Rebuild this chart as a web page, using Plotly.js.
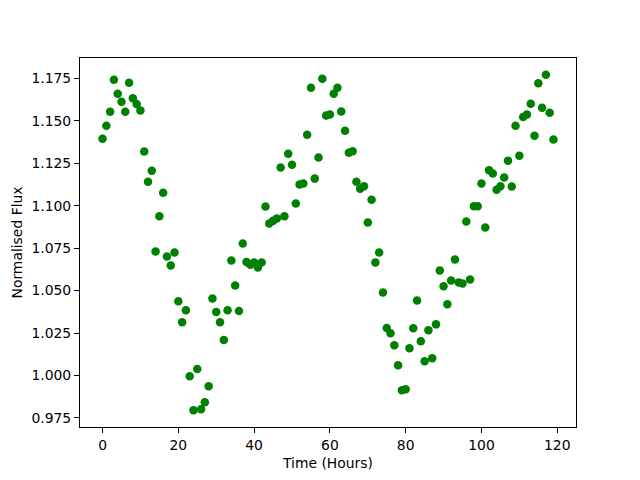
<!DOCTYPE html>
<html>
<head>
<meta charset="utf-8">
<script src="https://cdn.plot.ly/plotly-3.0.1.min.js"></script>
<style>html,body{margin:0;padding:0;background:#fff;}#chart{width:640px;height:480px;}</style>
</head>
<body>
<div id="chart"></div>
<script>
const timeHours = [0,1,2,3,4,5,6,7,8,9,10,11,12,13,14,15,16,17,18,19,20,21,22,23,24,25,26,27,28,29,30,31,32,33,34,35,36,37,38,39,40,41,42,43,44,45,46,47,48,49,50,51,52,53,54,55,56,57,58,59,60,61,62,63,64,65,66,67,68,69,70,71,72,73,74,75,76,77,78,79,80,81,82,83,84,85,86,87,88,89,90,91,92,93,94,95,96,97,98,99,100,101,102,103,104,105,106,107,108,109,110,111,112,113,114,115,116,117,118,119];
const normalisedFlux = [
  1.1395,1.1472,1.1554,1.1742,1.1660,1.1613,1.1554,1.1725,1.1634,1.1600,
  1.1562,1.1320,1.1142,1.1207,1.0731,1.0938,1.1077,1.0701,1.0648,1.0725,
  1.0437,1.0313,1.0384,0.9995,0.9795,1.0038,0.9801,0.9842,0.9936,1.0454,
  1.0374,1.0313,1.0209,1.0384,1.0678,1.0530,1.0380,1.0778,1.0668,1.0652,
  1.0666,1.0636,1.0666,1.0995,1.0895,1.0911,1.0925,1.1225,1.0938,1.1307,
  1.1242,1.1013,1.1125,1.1131,1.1419,1.1695,1.1160,1.1284,1.1748,1.1532,
  1.1538,1.1660,1.1695,1.1556,1.1442,1.1313,1.1321,1.1142,1.1101,1.1115,
  1.0901,1.1036,1.0666,1.0725,1.0489,1.0279,1.0248,1.0178,1.0060,0.9913,
  0.9919,1.0160,1.0278,1.0442,1.0201,1.0083,1.0266,1.0101,1.0301,1.0619,
  1.0525,1.0419,1.0560,1.0684,1.0548,1.0542,1.0907,1.0566,1.0997,1.0997,
  1.1131,1.0872,1.1209,1.1190,1.1095,1.1115,1.1166,1.1266,1.1113,1.1472,
  1.1295,1.1523,1.1538,1.1601,1.1413,1.1722,1.1577,1.1772,1.1548,1.1390
];
const xTickVals = [0,20,40,60,80,100,120];
const yTickVals = [0.975,1.000,1.025,1.050,1.075,1.100,1.125,1.150,1.175];
const xLabel = 'Time (Hours)';
const yLabel = 'Normalised Flux';

function padRange(arr){
  const lo = Math.min(...arr), hi = Math.max(...arr), m = (hi-lo)*0.05;
  return [lo-m, hi+m];
}

const font = {family:'DejaVu Sans, sans-serif', size:13.9, color:'#000'};
const axisCommon = {
  showgrid:false, zeroline:false, showline:true, mirror:true,
  linecolor:'#000', linewidth:1, ticks:'outside', ticklen:5, tickwidth:1,
  tickcolor:'#000', tickfont:font
};

Plotly.newPlot('chart', [{
  x: timeHours, y: normalisedFlux, type:'scatter', mode:'markers',
  marker:{color:'#008000', size:8.5}
}], {
  width:640, height:480,
  margin:{l:80, r:64, t:58, b:53, pad:0},
  paper_bgcolor:'#fff', plot_bgcolor:'#fff',
  showlegend:false,
  font: font,
  xaxis: Object.assign({}, axisCommon, {
    range: padRange(timeHours), tickvals: xTickVals,
    ticktext: xTickVals.map(String),
    title:{text:xLabel, font:font, standoff:6}
  }),
  yaxis: Object.assign({}, axisCommon, {
    range: padRange(normalisedFlux), tickvals: yTickVals,
    ticktext: yTickVals.map(v=>v.toFixed(3)),
    title:{text:yLabel, font:font, standoff:5}
  })
}, {staticPlot:true, displayModeBar:false});
</script>
</body>
</html>
